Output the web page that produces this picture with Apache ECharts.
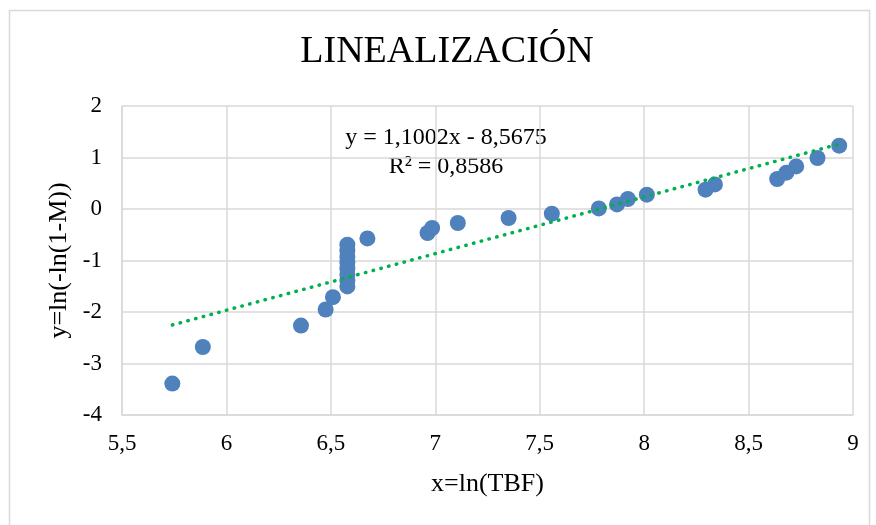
<!DOCTYPE html>
<html>
<head>
<meta charset="utf-8">
<script src="https://cdn.jsdelivr.net/npm/echarts@6/dist/echarts.min.js"></script>
<style>
html,body{margin:0;padding:0;background:#fff;}
#c{width:876px;height:525px;}
</style>
</head>
<body>
<div id="c"></div>
<script>
// Data
const xValues = [5.741, 5.887, 6.357, 6.475, 6.510,
  6.579, 6.579, 6.579, 6.579, 6.579, 6.579, 6.579, 6.579,
  6.675, 6.963, 6.985, 7.108, 7.351, 7.558, 7.783, 7.870, 7.922, 8.013,
  8.294, 8.339, 8.637, 8.681, 8.728, 8.830, 8.934];
const yValues = [-3.39, -2.68, -2.263, -1.951, -1.712,
  -0.693, -0.81, -0.93, -1.04, -1.16, -1.27, -1.39, -1.503,
  -0.571, -0.466, -0.369, -0.272, -0.175, -0.091, 0.012, 0.089, 0.194, 0.278,
  0.375, 0.478, 0.583, 0.705, 0.827, 0.990, 1.229];
const trendSlope = 1.1002;
const trendIntercept = -8.5675;
const equationText = 'y = 1,1002x - 8,5675';
const r2Text = 'R² = 0,8586';
const titleText = 'LINEALIZACIÓN';
const xAxisName = 'x=ln(TBF)';
const yAxisName = 'y=ln(-ln(1-M))';

const points = xValues.map((x, i) => [x, yValues[i]]);
const xMin = Math.min(...xValues), xMax = Math.max(...xValues);
const trend = [[xMin, trendSlope * xMin + trendIntercept], [xMax, trendSlope * xMax + trendIntercept]];

const FONT = "'Liberation Serif', 'Times New Roman', serif";
const chart = echarts.init(document.getElementById('c'), null, {renderer: 'canvas'});
const fmt = v => String(v).replace('.', ',');
chart.setOption({
  backgroundColor: '#ffffff',
  animation: false,
  grid: {left: 122, right: 23, top: 106, bottom: 110},
  xAxis: {
    type: 'value', min: 5.5, max: 9, interval: 0.5,
    name: xAxisName, nameLocation: 'middle', nameGap: 56,
    nameTextStyle: {fontFamily: FONT, fontSize: 26, color: '#000'},
    axisLine: {onZero: false, lineStyle: {color: '#d9d9d9', width: 1.5}},
    axisTick: {show: false},
    axisLabel: {formatter: fmt, fontFamily: FONT, fontSize: 23, color: '#000', margin: 17},
    splitLine: {lineStyle: {color: '#d9d9d9', width: 1.5}}
  },
  yAxis: {
    type: 'value', min: -4, max: 2, interval: 1,
    name: yAxisName, nameLocation: 'middle', nameGap: 50,
    nameTextStyle: {fontFamily: FONT, fontSize: 26, color: '#000'},
    axisLine: {show: true, onZero: false, lineStyle: {color: '#d9d9d9', width: 1.5}},
    axisTick: {show: false},
    axisLabel: {formatter: fmt, fontFamily: FONT, fontSize: 23, color: '#000', margin: 20},
    splitLine: {lineStyle: {color: '#d9d9d9', width: 1.5}}
  },
  graphic: [
    {type: 'rect', shape: {x: 9.5, y: 10.5, width: 860, height: 530}, style: {fill: 'none', stroke: '#d9d9d9', lineWidth: 1.5}, silent: true},
    {type: 'text', x: 447, y: 52, style: {text: titleText, font: "38px 'Liberation Serif'", fill: '#000', textAlign: 'center', textVerticalAlign: 'middle'}},
    {type: 'text', x: 446, y: 138, style: {text: equationText, font: "24px 'Liberation Serif'", fill: '#000', textAlign: 'center', textVerticalAlign: 'middle'}},
    {type: 'text', x: 446, y: 167, style: {text: r2Text, font: "24px 'Liberation Serif'", fill: '#000', textAlign: 'center', textVerticalAlign: 'middle'}}
  ],
  series: [
    {
      type: 'line', data: trend, showSymbol: false, symbol: 'none', z: 3,
      lineStyle: {color: '#00B050', width: 3.5, type: [0.5, 7.5], cap: 'round'}
    },
    {
      type: 'scatter', data: points, symbol: 'circle', symbolSize: 16, z: 2,
      itemStyle: {color: '#4F81BD', opacity: 1}
    }
  ]
});
</script>
</body>
</html>
